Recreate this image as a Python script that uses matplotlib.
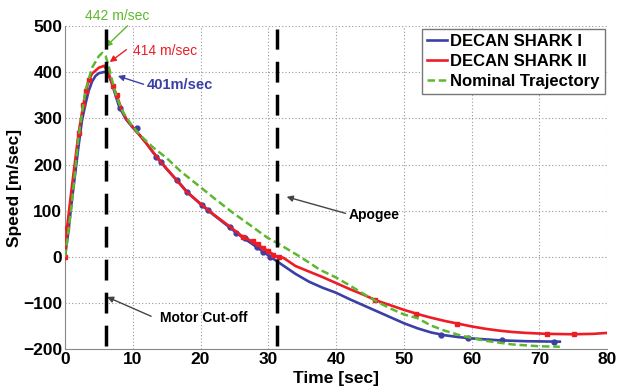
import matplotlib
matplotlib.use('Agg')
import matplotlib.pyplot as plt

plt.rcParams['font.family'] = ['Liberation Sans', 'DejaVu Sans']

# DECAN SHARK I (blue)
t_s1 = [0, 0.5, 1, 1.5, 2, 2.5, 3, 3.5, 4, 4.5, 5, 5.9, 6.5, 7, 7.5, 8, 9, 10, 11, 12, 13, 14, 15,
        16, 17, 18, 20, 22, 24, 26, 28, 30, 31.3, 34, 36, 38, 40, 42, 44, 46, 48, 50, 52, 54, 56,
        58, 60, 62, 64, 68, 73]
v_s1 = [0, 55, 120, 180, 240, 295, 330, 360, 380, 392, 398, 401, 392, 372, 348, 325, 298, 280, 264,
        246, 226, 208, 190, 174, 158, 141, 114, 90, 67, 44, 24, 3, -10, -37, -54, -67, -78, -92,
        -105, -118, -131, -144, -155, -164, -170, -174, -177, -179, -181, -183, -184]
mk_t_s1 = [8.1, 10.6, 13.5, 14.2, 16.5, 18, 20.2, 21.1, 24.3, 25.3, 26.5, 28.3, 29.2, 30.2,
           55.5, 59.4, 64.5, 72.1]
mk_v_s1 = [322, 279, 217, 205, 167, 141, 112, 102, 65, 52, 40, 22, 11, 0,
           -169, -177, -181, -184]

# DECAN SHARK II (red)
t_s2 = [0, 0.3, 1, 2, 2.7, 3.1, 3.5, 4, 5, 5.8, 6.5, 7.1, 7.6, 8.4, 9, 10, 11, 12, 14, 16, 18, 20,
        22, 24, 26, 28, 30, 31.3, 32.2, 34, 36, 38, 40, 42, 44, 46, 48, 50, 52, 54, 56, 58, 60, 62,
        64, 66, 68, 71, 75, 78, 80]
v_s2 = [0, 63, 150, 268, 329, 359, 383, 397, 410, 414, 395, 370, 351, 318, 300, 281, 264, 246, 208,
        174, 140, 115, 91, 69, 46, 30, 12, 0, -2, -20, -32, -44, -57, -70, -82, -95, -105, -115,
        -124, -132, -139, -145, -151, -156, -160, -163, -165, -167, -168, -167, -165]
mk_t_s2 = [0, 0.3, 2.1, 2.7, 3.1, 3.5, 7.1, 7.6, 26.3, 27.8, 28.5, 29.2, 30.0, 30.7, 31.5,
           45.7, 51.8, 57.8, 71.1, 75.1]
mk_v_s2 = [0, 63, 268, 329, 359, 383, 370, 351, 43, 35, 28, 19, 12, 4, 0,
           -93, -123, -145, -167, -168]

# Nominal trajectory (green dashed)
t_nom = [0, 0.5, 1, 2, 3, 4, 5, 5.5, 6, 6.5, 7, 7.6, 8.5, 9.8, 11, 13, 15, 17, 19.9, 22, 24.8,
         27, 29.8, 31.3, 34.7, 37.6, 40, 42, 44, 46, 48, 50, 52, 54, 56, 58, 60, 62, 64, 66, 68,
         70, 73]
v_nom = [0, 55, 115, 260, 360, 410, 435, 442, 435, 410, 380, 347, 315, 286, 265, 237, 214, 186,
         152, 127, 95, 72, 42, 30, 0, -28, -45, -62, -80, -97, -112, -125, -133, -149, -160, -169,
         -176, -182, -186, -190, -192, -194, -195]

t_cutoff = 6.0
t_apogee = 31.3

c_blue = '#3b3fa6'
c_red = '#ee1c25'
c_green = '#5cb82e'

fig = plt.figure(figsize=(6.19, 3.90), dpi=100)
ax = fig.add_axes([0.105, 0.105, 0.876, 0.828])

ax.plot(t_s1, v_s1, color=c_blue, lw=1.9, label='DECAN SHARK I', zorder=3)
ax.plot(mk_t_s1, mk_v_s1, 'o', color=c_blue, ms=3.5, zorder=3)
ax.plot(t_s2, v_s2, color=c_red, lw=1.9, label='DECAN SHARK II', zorder=4)
ax.plot(mk_t_s2, mk_v_s2, 's', color=c_red, ms=3.5, zorder=4)
ax.plot(t_nom, v_nom, '--', color=c_green, lw=1.8, dashes=(3, 1.5),
        label='Nominal Trajectory', zorder=5)

for tv in (t_cutoff, t_apogee):
    ax.axvline(tv, color='black', lw=2.5, dashes=(6, 3.5), ymin=0.01, ymax=0.99, zorder=6)

ax.set_xlim(0, 80)
ax.set_ylim(-200, 500)
ax.set_xticks(range(0, 81, 10))
ax.set_yticks(range(-200, 501, 100))
ax.grid(True, color='#999999', linestyle=(0, (1, 2)), lw=0.8)
for s in ('top', 'right'):
    ax.spines[s].set_visible(False)
for s in ('left', 'bottom'):
    ax.spines[s].set_color('#888888')
ax.tick_params(length=0, labelsize=12.5, pad=2)
for lab in ax.get_xticklabels() + ax.get_yticklabels():
    lab.set_fontweight('bold')

ax.set_xlabel('Time [sec]', fontsize=12.5, fontweight='bold', labelpad=3)
ax.set_ylabel('Speed [m/sec]', fontsize=12.5, fontweight='bold', labelpad=1)

leg = ax.legend(loc='upper right', prop={'weight': 'bold', 'size': 12},
                fancybox=False, edgecolor='#777777', handlelength=1.2, handletextpad=0.2,
                borderpad=0.3, labelspacing=0.3, borderaxespad=0.15, framealpha=1)
leg.get_frame().set_linewidth(1.0)

ap = dict(arrowstyle='-|>', lw=1.0, mutation_scale=9, shrinkA=0, shrinkB=0)
ax.annotate('442 m/sec', xy=(6.0, 455), xytext=(3.0, 522), color=c_green, fontsize=10,
            va='center', annotation_clip=False,
            arrowprops=dict(ap, color=c_green, relpos=(0.7, 0)))
ax.annotate('414 m/sec', xy=(6.6, 422), xytext=(10.0, 446), color=c_red, fontsize=10,
            va='center', arrowprops=dict(ap, color=c_red, relpos=(-0.1, 0.6)))
ax.annotate('401m/sec', xy=(7.8, 392), xytext=(12.0, 372), color=c_blue, fontsize=10.5,
            fontweight='bold', va='center', arrowprops=dict(ap, color=c_blue, relpos=(0, 0.5)))
ax.annotate('Motor Cut-off', xy=(6.2, -87), xytext=(14.0, -132), color='black', fontsize=10,
            fontweight='bold', va='center',
            arrowprops=dict(ap, color='#444444', relpos=(-0.1, 0.6)))
ax.annotate('Apogee', xy=(32.7, 130), xytext=(41.8, 91), color='black', fontsize=10,
            fontweight='bold', va='center',
            arrowprops=dict(ap, color='#444444', relpos=(-0.05, 0.6)))

fig.savefig('out.png', dpi=100)
